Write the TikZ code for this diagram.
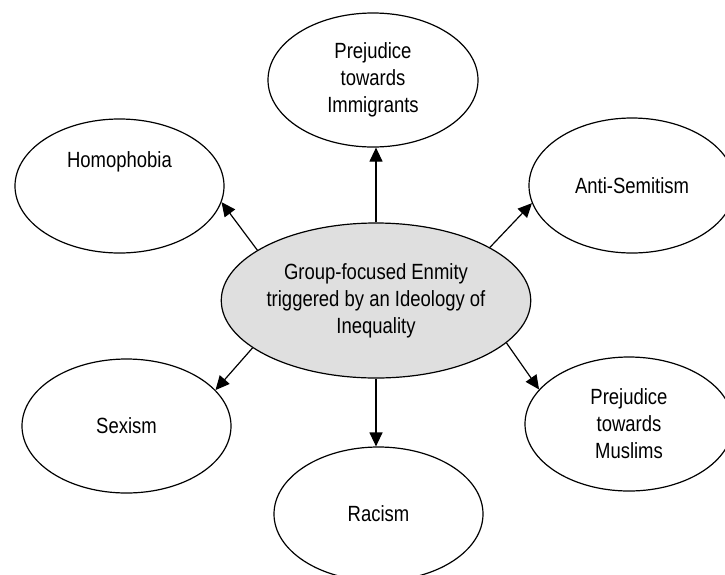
\documentclass[tikz,border=0pt]{standalone}
\usepackage{fontspec}
\setmainfont{Liberation Sans}[FakeStretch=0.84]
\usetikzlibrary{arrows.meta,shapes.geometric}
\begin{document}
\begin{tikzpicture}[x=1pt,y=-1pt,
  font=\fontsize{22}{27}\selectfont,
  oval/.style={ellipse,draw=black,line width=1.2pt,fill=white,inner sep=0pt,
    minimum width=209pt,minimum height=134pt,align=center},
  hub/.style={oval,fill=gray!25,minimum width=254pt,minimum height=155pt},
  link/.style={line width=1.2pt,-{Triangle[length=14pt,width=13pt]}}]
\useasboundingbox (0,0) rectangle (725,574);
\node[hub] (C) at (376,300.5) {Group-focused Enmity\\triggered by an Ideology of\\Inequality};
\node[oval,minimum width=210pt] (I) at (373,80) {Prejudice\\towards\\Immigrants};
\node[oval,label={[yshift=24pt]center:Homophobia}] (H) at (119.5,186) {};
\node[oval,minimum width=206pt,minimum height=135pt] (A) at (632,185.5) {Anti-Semitism};
\node[oval,minimum width=208pt] (M) at (629,424) {Prejudice\\towards\\Muslims};
\node[oval] (S) at (126.5,426) {Sexism};
\node[oval] (R) at (378.5,514) {Racism};
\draw[link] (C.north) -- (C.north |- I.south);
\draw[link] (C.south) -- (C.south |- R.north);
\draw[link] (C.157) -- (H.-9);
\draw[link] (C.25) -- (A.-170);
\draw[link] (C.-18.5) -- (M.159.5);
\draw[link] (C.-159) -- (S.22.6);
\end{tikzpicture}
\end{document}
